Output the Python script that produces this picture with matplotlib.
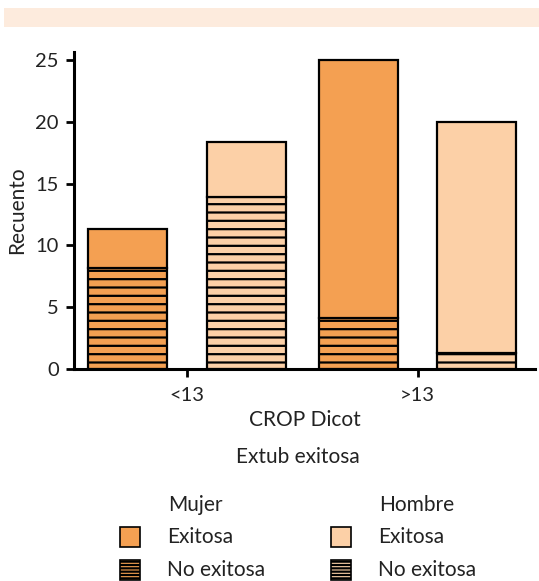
import numpy as np
import matplotlib
matplotlib.use("Agg")
import matplotlib.pyplot as plt
from matplotlib.patches import Rectangle

plt.rcParams['font.family'] = ['Lato', 'DejaVu Sans']
plt.rcParams['hatch.linewidth'] = 1.6

# data
groups = ['<13', '>13']
sexes = ['Mujer', 'Hombre']
no_exitosa = {'Mujer': [8.2, 4.1], 'Hombre': [13.9, 1.3]}
exitosa = {'Mujer': [3.1, 20.9], 'Hombre': [4.5, 18.7]}
colors = {'Mujer': '#F4A052', 'Hombre': '#FCD0A7'}
y_ticks = [0, 5, 10, 15, 20, 25]

fig = plt.figure(figsize=(5.39, 5.81), dpi=100)

# peach banner on top
fig.add_artist(Rectangle((4 / 539, 1 - 27 / 581), 535 / 539, 19 / 581,
                         transform=fig.transFigure, facecolor='#FDEBDD',
                         edgecolor='none'))

ax = fig.add_axes([74 / 539, 1 - 369 / 581, 461 / 539, 317 / 581])

x = np.arange(len(groups))
offsets = {'Mujer': -0.257, 'Hombre': 0.257}
width = 0.343
for s in sexes:
    pos = x + offsets[s]
    ax.bar(pos, no_exitosa[s], width, color=colors[s], edgecolor='black',
           linewidth=1.6, hatch='--')
    ax.bar(pos, exitosa[s], width, bottom=no_exitosa[s], color=colors[s],
           edgecolor='black', linewidth=1.6)

ax.set_xlim(-0.491, 1.509)
ax.set_ylim(0, 25.65)
ax.set_xticks(x)
ax.set_xticklabels(groups)
ax.set_yticks(y_ticks)
ax.tick_params(labelsize=14.5, width=2, length=6, colors='black',
               labelcolor='#222222')
ax.tick_params(axis='y', pad=5)
ax.tick_params(axis='x', pad=7)
for sp in ['top', 'right']:
    ax.spines[sp].set_visible(False)
for sp in ['left', 'bottom']:
    ax.spines[sp].set_linewidth(2.2)
ax.set_xlabel('CROP Dicot', fontsize=15, color='#222222', labelpad=4)
ax.set_ylabel('Recuento', fontsize=15, color='#222222', labelpad=6)

# legend
fig.text(298 / 539, 1 - 457 / 581, 'Extub exitosa', ha='center', va='center',
         fontsize=15, color='#222222')
cols = {'Mujer': 120, 'Hombre': 331}
for s in sexes:
    px = cols[s]
    fig.text((px + 48) / 539, 1 - 505 / 581, s, ha='left', va='center',
             fontsize=15, color='#222222')
    for yy, lab, hatch in [(537, 'Exitosa', None), (570, 'No exitosa', '-----')]:
        fig.add_artist(Rectangle((px / 539, 1 - (yy + 10) / 581), 20 / 539, 20 / 581,
                                 transform=fig.transFigure, facecolor=colors[s],
                                 edgecolor='black', linewidth=1.2, hatch=hatch))
        fig.text((px + 47) / 539, 1 - yy / 581, lab, ha='left', va='center',
                 fontsize=15, color='#222222')

fig.savefig('out.png', dpi=100)
